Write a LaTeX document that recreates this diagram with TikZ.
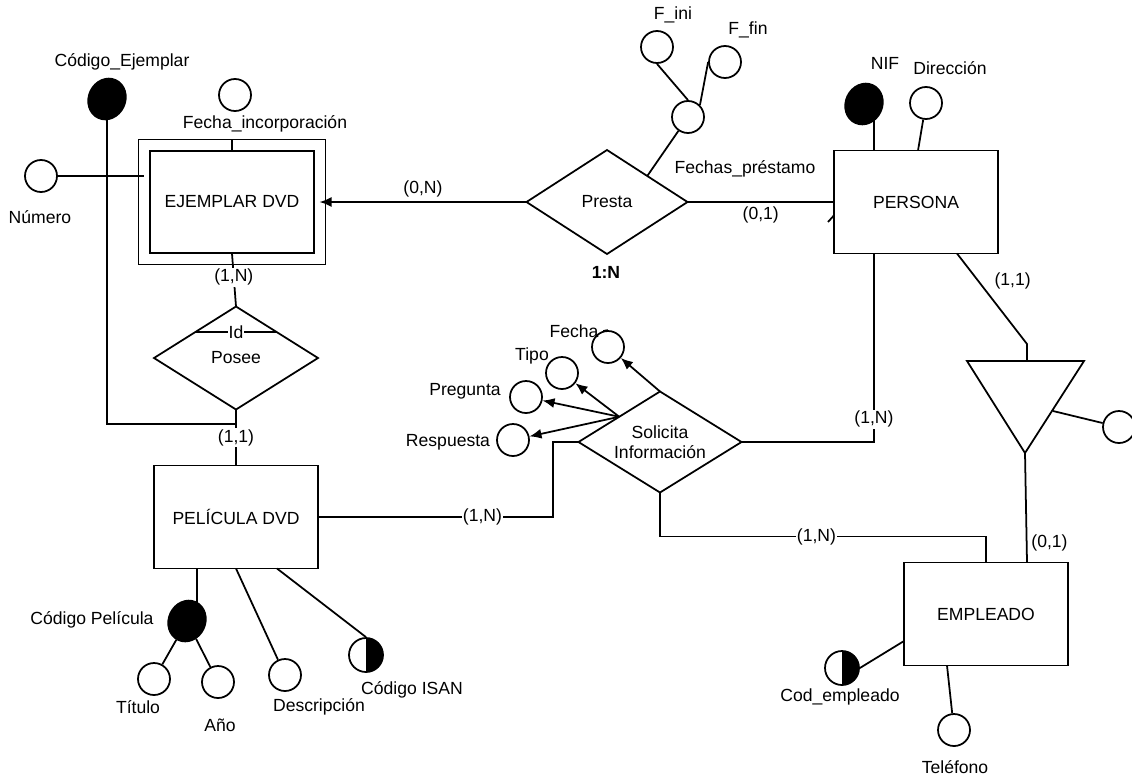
\documentclass[tikz,border=0pt]{standalone}
\usepackage{fontspec}
\setmainfont{Liberation Sans}
\usetikzlibrary{shapes.geometric}
\usetikzlibrary{arrows.meta}

\begin{document}
\begin{tikzpicture}
[x=0.03cm,y=-0.03cm,>={Latex[length=3.6mm,width=3mm]},line width=1.5pt,%
  every node/.style={font=\fontsize{15}{17}\selectfont},
  entity/.style={draw,rectangle,outer sep=0pt,minimum width=4.92cm,minimum height=3.09cm},
  weak/.style={entity,double,double distance=0.3cm,minimum width=5.25cm,minimum height=3.4cm},
  relation/.style={draw,diamond,inner sep=0pt,outer sep=0pt},
  attr/.style={draw,circle,inner sep=0pt,minimum size=0.96cm},
  keyattr/.style={draw,ellipse,fill=black,inner sep=0pt,minimum width=1.1cm,minimum height=1.25cm,rotate=-25},
  halfkey/.style={attr,minimum size=1.02cm,path picture={\fill[black] (path picture bounding box.north) rectangle (path picture bounding box.south east);}},
  card/.style={fill=white,inner sep=1pt}]
\useasboundingbox (0,0) rectangle (1132,776);
%% entities
\node[weak] (ejemplar) at (232,202) {EJEMPLAR DVD};
\node[entity] (pelicula) at (236,517) {PELÍCULA DVD};
\node[entity] (persona) at (916,202) {PERSONA};
\node[entity] (empleado) at (986,614) {EMPLEADO};
%% relations
\node[relation,minimum width=4.83cm,minimum height=3.12cm,label=center:Presta] (presta) at (607,202) {};
\node[relation,minimum width=4.92cm,minimum height=3.09cm,label=center:Posee] (posee) at (236,358) {};
\node[relation,minimum width=4.89cm,minimum height=3.03cm,
  label={[align=center]center:Solicita\\Información}] (solicita) at (660,442) {};
\node[font=\fontsize{15}{17}\selectfont\bfseries] (tipopresta) at (606,272) {1:N};
%% generalization
\coordinate (tri1) at (967,361);
\coordinate (tri2) at (1084,361);
\coordinate (tri3) at (1025,453);
\coordinate (tritop) at (1027,361);
\coordinate (trielbow) at (1027,344);
\coordinate (triside) at (1053,411);
\draw (tri1) -- (tri2) -- (tri3) -- cycle;
%% attributes
\node[keyattr] (codej) at (107,99) {};
\node[attr] (fechainc) at (235,95) {};
\node[attr] (numero) at (41,176) {};
\node[attr] (fechas) at (688,117) {};
\node[attr] (fini) at (657,47) {};
\node[attr] (ffin) at (725,62) {};
\node[keyattr] (nif) at (864,104) {};
\node[attr] (direccion) at (926,103) {};
\node[attr] (fecha) at (608,347) {};
\node[attr] (tipo) at (562,373) {};
\node[attr] (pregunta) at (526,397) {};
\node[attr] (respuesta) at (513,440) {};
\node[attr] (subtipo) at (1119,427) {};
\node[keyattr] (codpel) at (187,621) {};
\node[attr] (titulo) at (154,679) {};
\node[attr] (anio) at (218,682) {};
\node[attr] (descripcion) at (285,675) {};
\node[halfkey] (isan) at (366,655) {};
\node[halfkey] (codemp) at (842,668) {};
\node[attr] (telefono) at (954,730) {};
%% attribute names
\node (lcodej) at (122,62) {Código\_Ejemplar};
\node (lfechainc) at (265,124) {Fecha\_incorporación};
\node (lnumero) at (40,217) {Número};
\node (lfini) at (673,15) {F\_ini};
\node (lffin) at (748,30) {F\_fin};
\node (lfechas) at (745,169) {Fechas\_préstamo};
\node (lnif) at (885,63) {NIF};
\node (ldir) at (950,68) {Dirección};
\node (lfecha) at (574,331) {Fecha};
\node (ltipo) at (532,356) {Tipo};
\node (lpregunta) at (465,391) {Pregunta};
\node (lrespuesta) at (448,442) {Respuesta};
\node (lcodpel) at (92,620) {Código Película};
\node (ltitulo) at (138,707) {Título};
\node (lanio) at (220,725) {Año};
\node (ldesc) at (319,707) {Descripción};
\node (lisan) at (412,690) {Código ISAN};
\node (lcodemp) at (840,697) {Cod\_empleado};
\node (ltel) at (955,767) {Teléfono};
%% relationships
\draw[->] (presta.west) -- node[above] {(0,N)} (ejemplar.east);
\draw (presta.east) -- node[below] {(0,1)} (persona.west);
\draw ([xshift=-0.18cm,yshift=-0.6cm]persona.west) -- ([yshift=-0.4cm]persona.west);
\draw ([yshift=0.15cm]ejemplar.south) -- node[card,pos=0.45] {(1,N)} (posee.north);
\draw (posee.south) -- node[card] {(1,1)} (pelicula.north);
\draw (posee.north west) -- node[card,inner sep=0.5pt] {Id} (posee.north east);
\coordinate (idjoin) at (236,424);
\draw (codej) |- (idjoin);
\draw (pelicula.east) -- node[card,pos=0.7] {(1,N)} ++(235,0) |- (solicita.west);
\draw ([xshift=-1.26cm]persona.south) |- node[card,pos=0.44] {(1,N)} (solicita.east);
\draw (solicita.south) |- node[card,pos=0.74] {(1,N)} ([yshift=0.78cm]empleado.north) -- (empleado.north);
\draw ([xshift=1.23cm]persona.south) -- node[pos=0.3,right=10pt] {(1,1)} (trielbow) -- (tritop);
\draw (tri3) -- node[pos=0.82,right] {(0,1)} ([xshift=1.23cm]empleado.north);
\draw (triside) -- (subtipo);
%% attribute links
\draw (numero) -- (numero -| ejemplar.west);
\draw ([yshift=0.15cm]ejemplar.north) -- ([yshift=-0.15cm]ejemplar.north);
\draw (presta.north east) -- (fechas);
\draw (fini.south) -- (fechas.north);
\draw (ffin.west) -- (fechas.north east);
\draw ([xshift=0.3cm]nif.center) -- ([xshift=0.3cm]nif.center |- persona.north);
\draw (direccion) -- ([xshift=0.06cm]persona.north);
\draw[->] (solicita.north) -- (fecha);
\draw[->] (solicita.north west) -- (tipo);
\draw[->] (solicita.north west) -- (pregunta);
\draw[->] (solicita.north west) -- (respuesta);
\draw (lfecha.east) -- (fecha.north);
\draw ([xshift=0.3cm]codpel.center) -- ([xshift=0.3cm]codpel.center |- pelicula.south);
\draw (codpel) -- (titulo);
\draw (codpel) -- (anio);
\draw (pelicula.south) -- (descripcion);
\draw ([xshift=1.23cm]pelicula.south) -- (isan.north);
\draw (codemp.east) -- ([yshift=-0.81cm]empleado.west);
\draw ([xshift=-1.17cm]empleado.south) -- (telefono);
\end{tikzpicture}
\end{document}
